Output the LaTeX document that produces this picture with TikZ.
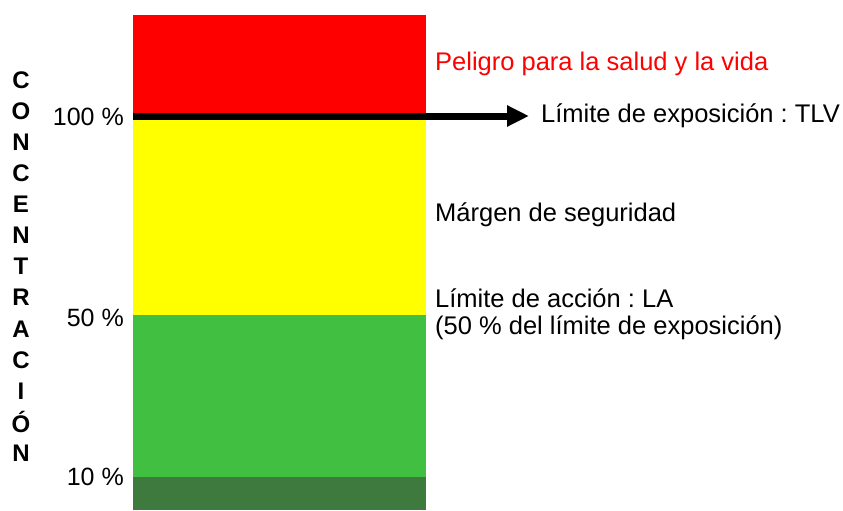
\documentclass[tikz,border=0pt]{standalone}
\usepackage{fontspec}
\setmainfont{Liberation Sans}
\usetikzlibrary{arrows.meta}
\definecolor{bandred}{RGB}{255,0,0}
\definecolor{bandyellow}{RGB}{255,255,0}
\definecolor{bandgreen}{RGB}{65,191,65}
\definecolor{banddark}{RGB}{62,122,62}
\frenchspacing
\begin{document}
\begin{tikzpicture}[x=1pt,y=-1pt,
  band/.style={draw=none,inner sep=0pt,outer sep=0pt,minimum width=293pt,anchor=north west},
  lbl/.style={inner sep=0pt,anchor=west,font=\fontsize{25.5}{30}\selectfont},
  pct/.style={inner sep=0pt,anchor=east,font=\fontsize{25}{30}\selectfont},
  vletter/.style={inner sep=0pt,font=\fontsize{24}{28}\selectfont\bfseries}]
\useasboundingbox (0,0) rectangle (843,511);
\node[band,fill=bandred,minimum height=101pt] (red) at (133,15) {};
\node[band,fill=bandyellow,minimum height=199pt] (yellow) at (133,116) {};
\node[band,fill=bandgreen,minimum height=162pt] (green) at (133,315) {};
\node[band,fill=banddark,minimum height=33pt] (dark) at (133,477) {};
\coordinate (arrstart) at (133,116);
\node[lbl] (tlv) at (541,116) {Límite de exposición : TLV};
\draw[line width=7pt,-{Triangle[length=22pt,width=20pt]},shorten >=12pt] (arrstart) -- (tlv.west);
\node[lbl,text=bandred] (peligro) at (435,64) {Peligro para la salud y la vida};
\node[lbl] (margen) at (435,215) {Márgen de seguridad};
\node[lbl] (la) at (435,298) {Límite de acción : LA};
\node[lbl] (la2) at (435,328) {(50 \% del límite de exposición)};
\node[pct] (p100) at (124,117) {100 \%};
\node[pct] (p50) at (124,318) {50 \%};
\node[pct] (p10) at (124,477) {10 \%};
\foreach \l [count=\i] in {C,O,N,C,E,N,T,R,A,C,I,Ó,N}
  \node[vletter] (v\i) at (21,{80+31.1*(\i-1)}) {\l};
\end{tikzpicture}
\end{document}
